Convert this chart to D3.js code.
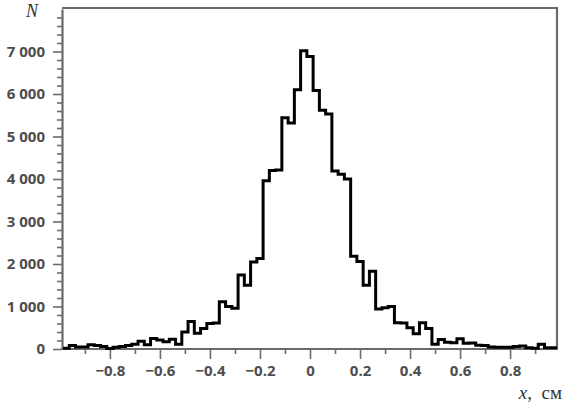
<!DOCTYPE html>
<html>
<head>
<meta charset="utf-8">
<script src="https://cdn.jsdelivr.net/npm/d3@7"></script>
<style>
  html, body { margin: 0; padding: 0; background: #fff; }
  svg { display: block; }
</style>
</head>
<body>
<svg id="viz"></svg>
<script>
// Histogram of x, bin width 0.025 cm (bins centred on multiples of 0.025)
const binStart = -0.9875;
const binWidth = 0.025;
const counts = [
  20, 80, 50, 50, 100, 80, 60, 10, 40, 60,
  85, 110, 180, 100, 250, 210, 170, 230, 110, 400,
  650, 370, 480, 600, 610, 1110, 1000, 960, 1740, 1500,
  2050, 2130, 3960, 4200, 4210, 5440, 5320, 6100, 7020, 6880,
  6080, 5620, 5530, 4190, 4110, 4000, 2180, 2060, 1500, 1830,
  940, 970, 1000, 620, 610, 500, 360, 620, 480, 110,
  225, 160, 150, 240, 135, 140, 90, 80, 50, 40,
  40, 40, 60, 70, 30, 20, 110, 30, 30
];
const xMajorTicks = [-0.8, -0.6, -0.4, -0.2, 0, 0.2, 0.4, 0.6, 0.8];
const xMinorTicks = [-0.9, -0.7, -0.5, -0.3, -0.1, 0.1, 0.3, 0.5, 0.7, 0.9];
const yMajorTicks = [0, 1000, 2000, 3000, 4000, 5000, 6000, 7000];
const yMinorTicks = d3.range(200, 8001, 200).filter(v => v % 1000 !== 0);

const width = 563, height = 403;
const plotLeft = 63, plotRight = 557, plotTop = 9, plotBottom = 349;
const axisColor = "#6b6b6b";
const labelColor = "#4d4d4d";

const svg = d3.select("#viz")
  .attr("width", width)
  .attr("height", height);

const x = d3.scaleLinear()
  .domain([binStart, binStart + binWidth * counts.length])
  .range([plotLeft, plotRight]);

const y = d3.scaleLinear()
  .domain([0, 8000])
  .range([plotBottom, plotTop]);

// Frame (top and right)
svg.append("path")
  .attr("d", `M${plotLeft - 1},${plotTop - 1}H${plotRight}V${plotBottom}`)
  .attr("fill", "none")
  .attr("stroke", axisColor)
  .attr("stroke-width", 2.2);

// X axis
const fmtX = d => d === 0 ? "0" : d3.format(".1f")(d);
svg.append("g")
  .attr("transform", `translate(0,${plotBottom})`)
  .call(d3.axisBottom(x).tickValues(xMinorTicks).tickSize(5).tickFormat(""))
  .call(g => g.select(".domain").remove());

const xAxis = svg.append("g")
  .attr("transform", `translate(0,${plotBottom})`)
  .call(d3.axisBottom(x).tickValues(xMajorTicks).tickSize(10).tickSizeOuter(0).tickPadding(6).tickFormat(fmtX));

// Y axis
const fmtY = d => d3.format(",")(d).replace(",", " ");
svg.append("g")
  .attr("transform", `translate(${plotLeft - 1},0)`)
  .call(d3.axisLeft(y).tickValues(yMinorTicks).tickSize(5).tickFormat(""))
  .call(g => g.select(".domain").remove());

const yAxis = svg.append("g")
  .attr("transform", `translate(${plotLeft - 1},0)`)
  .call(d3.axisLeft(y).tickValues(yMajorTicks).tickSize(9).tickSizeOuter(0).tickPadding(8).tickFormat(fmtY));

xAxis.select(".domain")
  .attr("d", `M${plotLeft - 2},0H${plotRight + 1}`);

svg.selectAll(".domain")
  .attr("stroke", axisColor)
  .attr("stroke-width", 2.2);
svg.selectAll(".tick line")
  .attr("stroke", axisColor)
  .attr("stroke-width", 1.6);
svg.selectAll(".tick text")
  .attr("fill", labelColor)
  .style("font-family", "'Open Sans', sans-serif")
  .style("font-weight", 700)
  .style("font-size", "15px");

// Histogram outline
const pts = counts.map((c, i) => [binStart + i * binWidth, c]);
pts.push([binStart + counts.length * binWidth, counts[counts.length - 1]]);

svg.append("path")
  .datum(pts)
  .attr("fill", "none")
  .attr("stroke", "#000")
  .attr("stroke-width", 3)
  .attr("stroke-linejoin", "miter")
  .attr("d", d3.line()
    .x(d => x(d[0]))
    .y(d => y(d[1]))
    .curve(d3.curveStepAfter));

// Axis titles
svg.append("text")
  .attr("x", 26)
  .attr("y", 17)
  .attr("fill", "#333")
  .style("font-family", "'Liberation Serif', 'DejaVu Serif', serif")
  .style("font-style", "italic")
  .style("font-size", "18px")
  .text("N");

const xTitle = svg.append("text")
  .attr("x", 562)
  .attr("y", 399)
  .attr("text-anchor", "end")
  .attr("fill", "#333")
  .style("font-family", "'Liberation Serif', 'DejaVu Serif', serif")
  .style("font-size", "19px")
  .style("white-space", "pre");
xTitle.append("tspan").style("font-style", "italic").text("x");
xTitle.append("tspan").text(",  см");
</script>
</body>
</html>
